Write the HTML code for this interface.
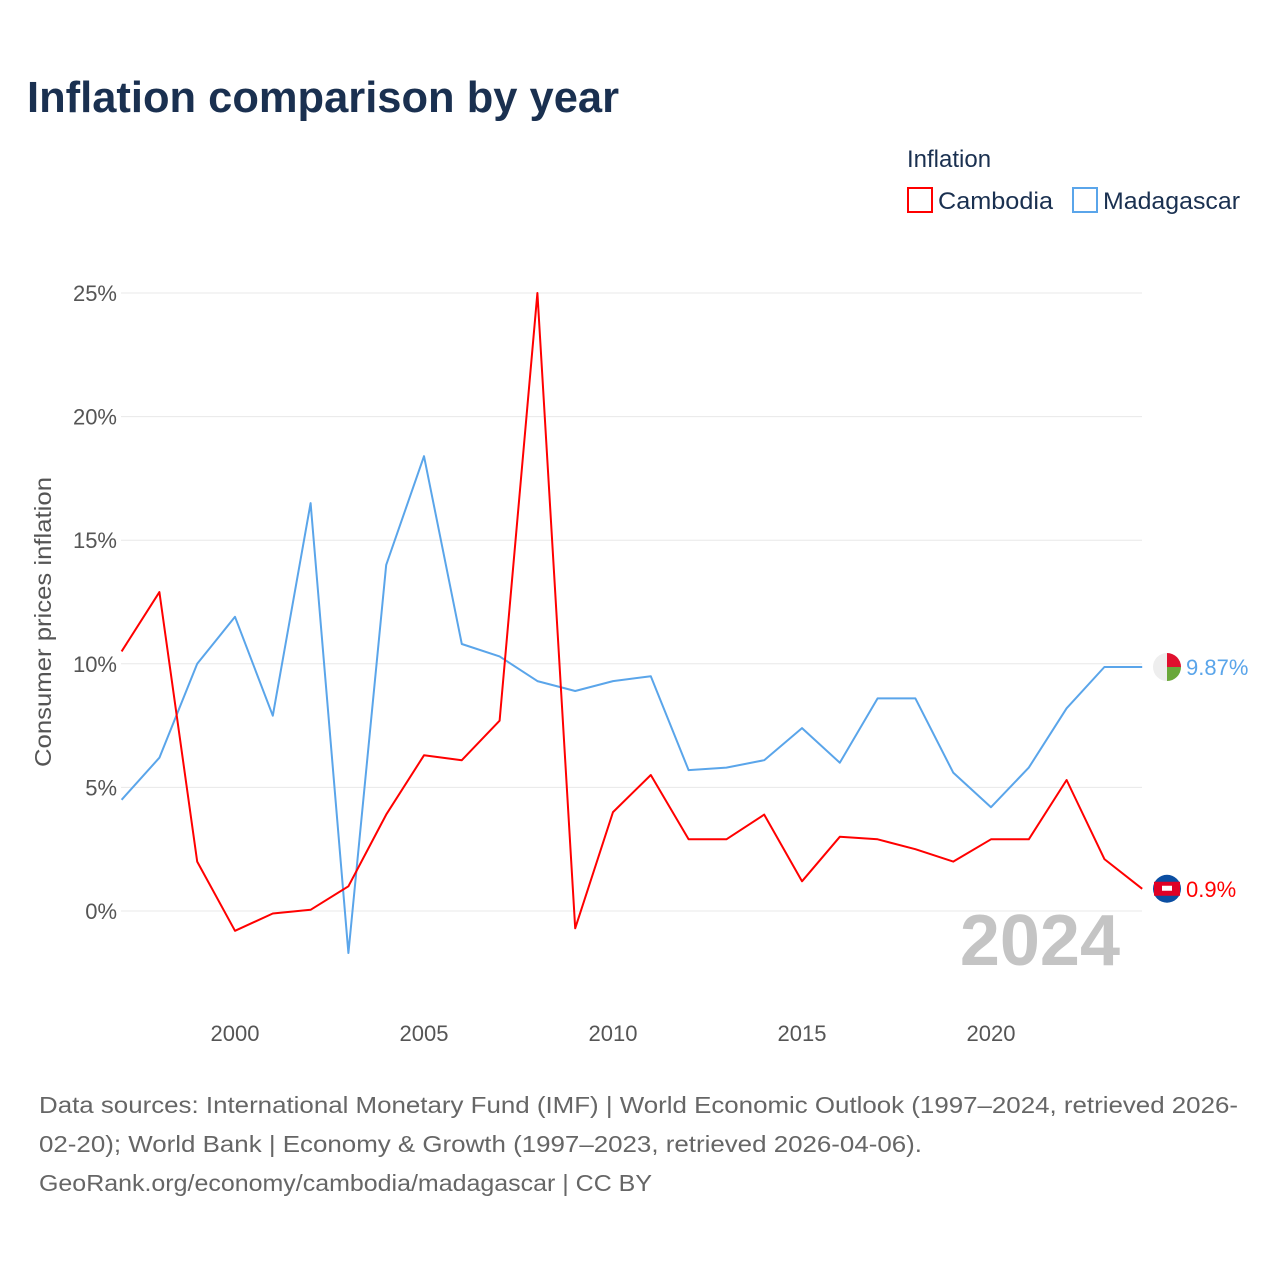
<!DOCTYPE html>
<html><head><meta charset="utf-8"><style>
body{margin:0;background:#fff;font-family:"Liberation Sans",sans-serif;}
svg text{font-family:"Liberation Sans",sans-serif;}
</style></head><body>
<svg id="chart" width="1280" height="1280" viewBox="0 0 1280 1280" xmlns="http://www.w3.org/2000/svg">
<rect width="1280" height="1280" fill="#fff"/>
<text x="27" y="112" font-size="44" font-weight="bold" fill="#1a3050" textLength="592" lengthAdjust="spacingAndGlyphs">Inflation comparison by year</text>
<text x="907" y="167" font-size="24" fill="#1a3050">Inflation</text>
<g><rect x="908" y="188" width="24" height="24" fill="none" stroke="#ff0000" stroke-width="2"/><text x="938" y="209" font-size="24" fill="#1a3050" textLength="115" lengthAdjust="spacingAndGlyphs">Cambodia</text></g>
<g><rect x="1073" y="188" width="24" height="24" fill="none" stroke="#5aa5ea" stroke-width="2"/><text x="1103" y="209" font-size="24" fill="#1a3050" textLength="137" lengthAdjust="spacingAndGlyphs">Madagascar</text></g>
<g id="grid"></g><g id="xticks"></g>
<text transform="translate(51,622) rotate(-90)" text-anchor="middle" font-size="23" fill="#555" textLength="290" lengthAdjust="spacingAndGlyphs">Consumer prices inflation</text>
<text x="1120" y="965" text-anchor="end" font-size="72" font-weight="bold" fill="#c4c4c4">2024</text>
<g id="series"></g>
<g font-size="23" fill="#666">
<text x="39" y="1113" textLength="1199" lengthAdjust="spacingAndGlyphs">Data sources: International Monetary Fund (IMF) | World Economic Outlook (1997–2024, retrieved 2026-</text>
<text x="39" y="1152" textLength="883" lengthAdjust="spacingAndGlyphs">02-20); World Bank | Economy &amp; Growth (1997–2023, retrieved 2026-04-06).</text>
<text x="39" y="1191" textLength="613" lengthAdjust="spacingAndGlyphs">GeoRank.org/economy/cambodia/madagascar | CC BY</text>
</g>
</svg>
<script>
const years=[1997,1998,1999,2000,2001,2002,2003,2004,2005,2006,2007,2008,2009,2010,2011,2012,2013,2014,2015,2016,2017,2018,2019,2020,2021,2022,2023,2024];
const cambodia=[10.5,12.9,2.0,-0.8,-0.1,0.05,1.0,3.9,6.3,6.1,7.7,25.0,-0.7,4.0,5.5,2.9,2.9,3.9,1.2,3.0,2.9,2.5,2.0,2.9,2.9,5.3,2.1,0.9];
const madagascar=[4.5,6.2,10.0,11.9,7.9,16.5,-1.7,14.0,18.4,10.8,10.3,9.3,8.9,9.3,9.5,5.7,5.8,6.1,7.4,6.0,8.6,8.6,5.6,4.2,5.8,8.2,9.87,9.87];
const yTicks=[0,5,10,15,20,25];
const xTicks=[2000,2005,2010,2015,2020];
const NS="http://www.w3.org/2000/svg";
const xs=y=>121.6+(y-1997)*37.8;
const ys=v=>911-v*24.72;
function mk(tag,attrs,parent,txt){const e=document.createElementNS(NS,tag);for(const k in attrs)e.setAttribute(k,attrs[k]);if(txt!==undefined)e.textContent=txt;parent.appendChild(e);return e;}
const grid=document.getElementById('grid');
yTicks.forEach(t=>{
 const l=mk('line',{x1:121,x2:1142,y1:ys(t),y2:ys(t),stroke:'#e8e8e8','stroke-width':1},grid);
 
 
 const tx=mk('text',{x:117,y:ys(t)+8,'text-anchor':'end','font-size':22,fill:'#555'},grid,t+'%');
 
 
});
const xt=document.getElementById('xticks');
xTicks.forEach(t=>{
 const tx=mk('text',{x:xs(t),y:1041,'text-anchor':'middle','font-size':22,fill:'#555'},xt,t);
 
 
});
const sg=document.getElementById('series');
function line(vals,color,name){
 const d=vals.map((v,i)=>(i?'L':'M')+xs(years[i]).toFixed(1)+','+ys(v).toFixed(1)).join(' ');
 const p=mk('path',{d:d,fill:'none',stroke:color,'stroke-width':2,'stroke-linejoin':'round'},sg);
 
 
}
line(madagascar,'#5aa5ea','madagascar-line');
line(cambodia,'#ff0000','cambodia-line');
const lm=madagascar[madagascar.length-1], lc=cambodia[cambodia.length-1];
const mg=mk('g',{},sg);


const cx=1167,cyM=ys(lm);
mk('circle',{cx:cx,cy:cyM,r:14,fill:'#eee'},mg);
mk('path',{d:`M${cx},${cyM} L${cx},${cyM-14} A14,14 0 0 1 ${cx+14},${cyM} Z`,fill:'#e0102e'},mg);
mk('path',{d:`M${cx},${cyM} L${cx+14},${cyM} A14,14 0 0 1 ${cx},${cyM+14} Z`,fill:'#6aa83a'},mg);
const tm=mk('text',{x:1186,y:cyM+8,'font-size':22,fill:'#5aa5ea'},sg,lm+'%');


const cg=mk('g',{},sg);


const cyC=ys(lc);
mk('circle',{cx:cx,cy:cyC,r:14,fill:'#0b4ea2'},cg);
mk('rect',{x:cx-13,y:cyC-7,width:26,height:14,fill:'#e00025'},cg);
mk('rect',{x:cx-5,y:cyC-3,width:10,height:5,fill:'#fff'},cg);
const tc=mk('text',{x:1186,y:cyC+8,'font-size':22,fill:'#ff0000'},sg,lc+'%');


</script>
</body></html>
